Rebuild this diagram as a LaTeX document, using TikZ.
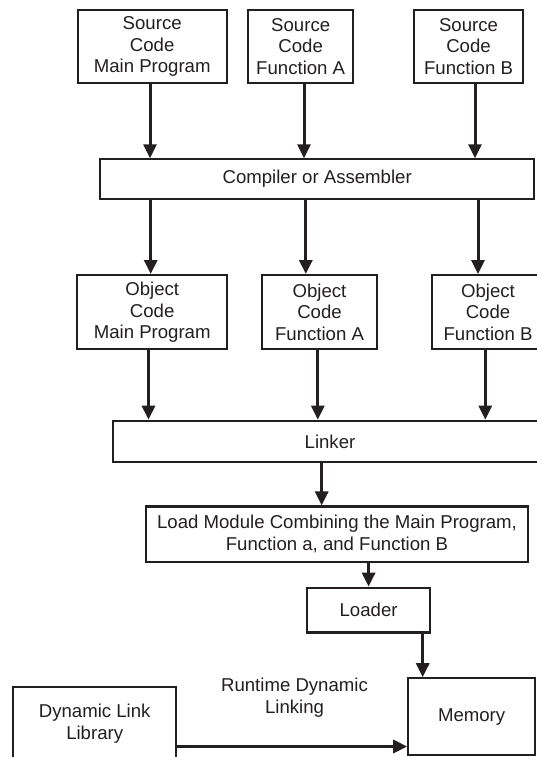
\documentclass[tikz,border=0pt]{standalone}
\usepackage{fontspec}
\setmainfont{Liberation Sans}
\usetikzlibrary{arrows.meta}
\definecolor{ink}{HTML}{231F20}
\begin{document}
\begin{tikzpicture}[x=1pt,y=-1pt,
  box/.style={draw=ink, line width=2.1pt, text=ink, align=center, inner sep=0pt,
    font=\fontsize{18.6}{21.5}\selectfont},
  lbl/.style={text=ink, align=center, inner sep=0pt,
    font=\fontsize{18.6}{21.5}\selectfont},
  arr/.style={draw=ink, line width=3pt, -{Triangle[length=14pt,width=13pt]}}]
\useasboundingbox (0,0) rectangle (537,757);
\fill[white] (0,0) rectangle (537,757);
\clip (0,0) rectangle (537,757);

% source files
\node[box, minimum width=149pt, minimum height=73pt] (srcM) at (152.2,46.5) {Source\\Code\\Main Program};
\node[box, minimum width=105.4pt, minimum height=73pt] (srcA) at (300.7,46.5) {Source\\Code\\Function A};
\node[box, minimum width=109pt, minimum height=73pt] (srcB) at (468.5,46.5) {Source\\Code\\Function B};

% translator
\node[box, minimum width=434.3pt, minimum height=39.4pt] (comp) at (317.2,179) {Compiler or Assembler};

% object files
\node[box, minimum width=150.4pt, minimum height=74.3pt] (objM) at (152.2,312.2) {Object\\Code\\Main Program};
\node[box, minimum width=114.4pt, minimum height=74.3pt] (objA) at (319.5,312.2) {Object\\Code\\Function A};
\node[box, minimum width=112pt, minimum height=74.3pt] (objB) at (488,312.2) {Object\\Code\\Function B};

% linking and loading
\node[box, minimum width=434.6pt, minimum height=41.6pt] (link) at (330,441.5) {Linker};
\node[box, minimum width=382.8pt, minimum height=55.2pt] (load) at (337,534.1) {Load Module Combining the Main Program,\\Function a, and Function B};
\node[box, minimum width=122.7pt, minimum height=44.8pt] (ldr) at (368.6,610.1) {Loader};
\node[box, minimum width=126.7pt, minimum height=76.7pt] (mem) at (471.6,716.6) {Memory};
\node[box, minimum width=162.7pt, minimum height=73.8pt] (dll) at (94.7,723.6) {Dynamic Link\\Library};
\node[lbl] (rdl) at (294.5,697.5) {Runtime Dynamic\\Linking};

% source -> compiler
\draw[arr] ([xshift=-2.2pt]srcM.south) -- ([xshift=-2.2pt]srcM.south |- comp.north);
\draw[arr] ([xshift=3.3pt]srcA.south) -- ([xshift=3.3pt]srcA.south |- comp.north);
\draw[arr] ([xshift=6.5pt]srcB.south) -- ([xshift=6.5pt]srcB.south |- comp.north);

% compiler -> object
\draw[arr] ([xshift=-1.5pt]objM.north |- comp.south) -- ([xshift=-1.5pt]objM.north);
\draw[arr] ([xshift=-13.7pt]objA.north |- comp.south) -- ([xshift=-13.7pt]objA.north);
\draw[arr] ([xshift=-10pt]objB.north |- comp.south) -- ([xshift=-10pt]objB.north);

% object -> linker
\draw[arr] ([xshift=-3.7pt]objM.south) -- ([xshift=-3.7pt]objM.south |- link.north);
\draw[arr] ([xshift=-1.7pt]objA.south) -- ([xshift=-1.7pt]objA.south |- link.north);
\draw[arr] ([xshift=-2.7pt]objB.south) -- ([xshift=-2.7pt]objB.south |- link.north);

% linker -> load module -> loader -> memory
\draw[arr] ([xshift=-15.3pt]load.north |- link.south) -- ([xshift=-15.3pt]load.north);
\draw[arr] (load.south -| ldr.north) -- (ldr.north);
\draw[arr] ([xshift=54.1pt]ldr.south) -- ([xshift=54.1pt]ldr.south |- mem.north);

% dynamic library -> memory
\draw[arr] ([yshift=-22.9pt]dll.east) -- ([yshift=-22.9pt]dll.east -| mem.west);
\end{tikzpicture}
\end{document}
